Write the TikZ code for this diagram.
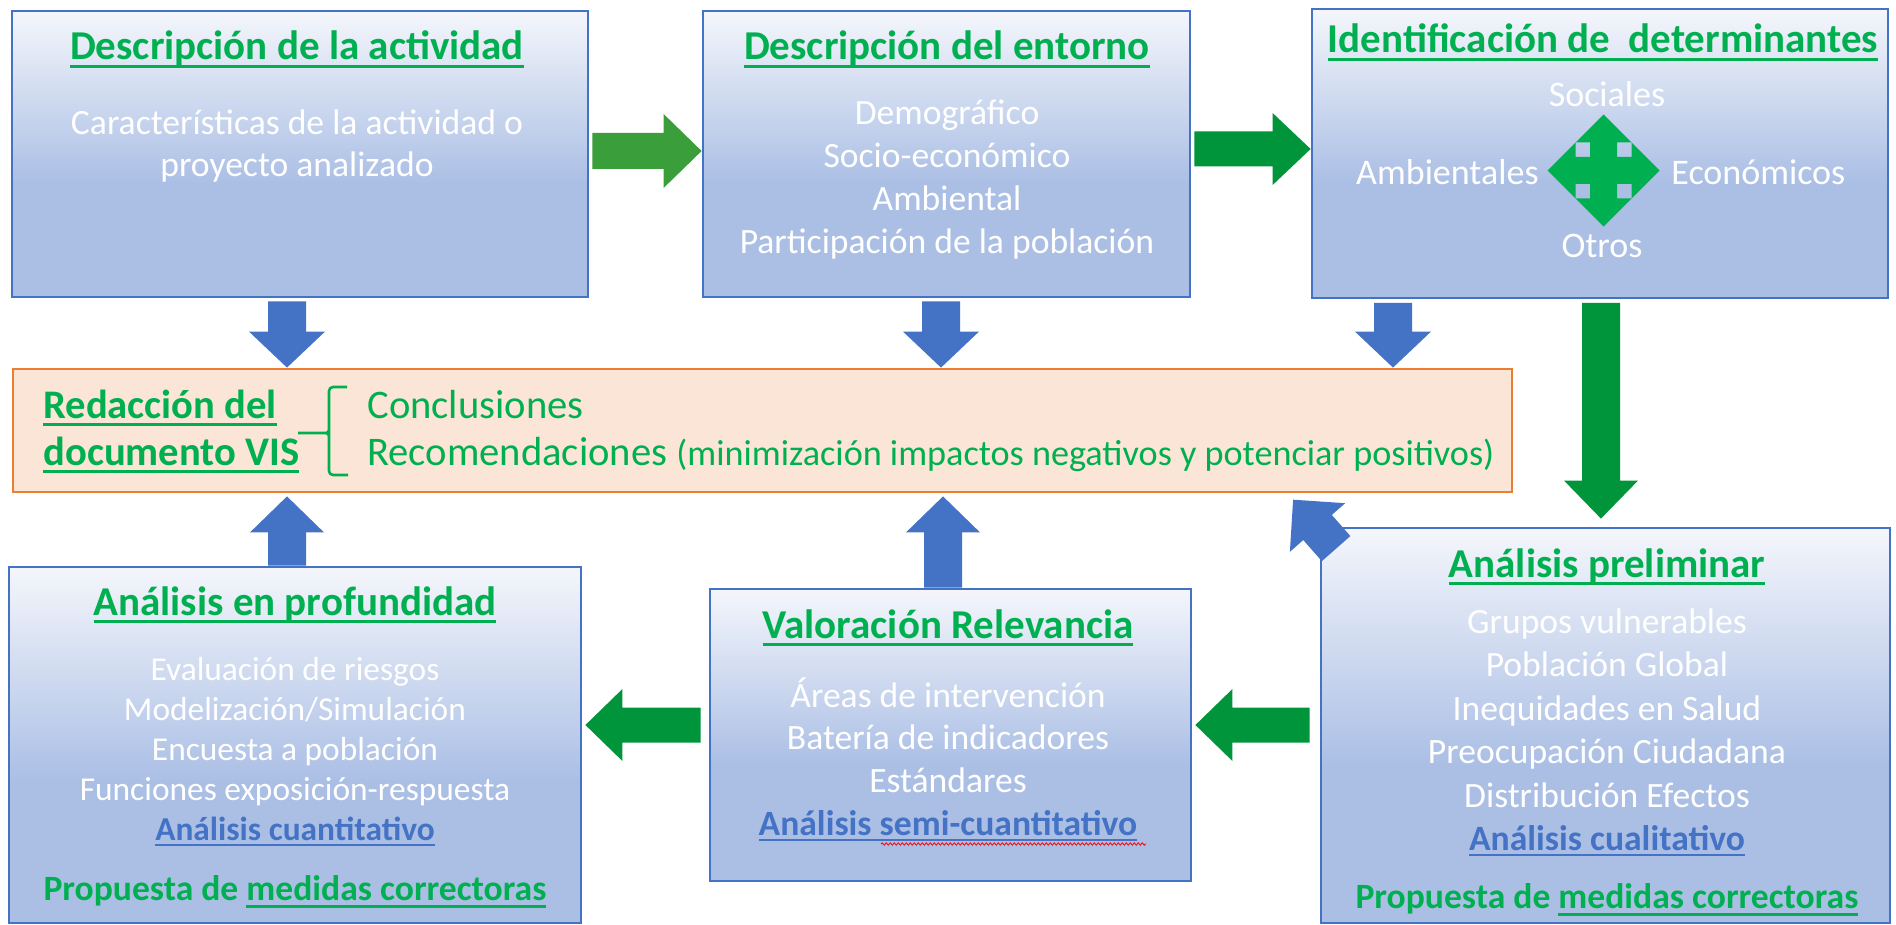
\documentclass[tikz,border=0pt]{standalone}
\usepackage{fontspec}
\setmainfont{Carlito}
\usetikzlibrary{calc,decorations.pathmorphing}
\pgfdeclarelayer{behind}
\pgfsetlayers{behind,main}

\definecolor{bordblue}{HTML}{4472C4}
\definecolor{gradtop}{HTML}{F4F6FB}
\definecolor{gradbot}{HTML}{ABBFE5}
\definecolor{titlegreen}{HTML}{00B050}
\definecolor{arrgreen}{HTML}{00953A}
\definecolor{arrgreenlight}{HTML}{3A9E3A}
\definecolor{orfill}{HTML}{FBE5D6}
\definecolor{orborder}{HTML}{ED7D31}
\definecolor{txtblue}{HTML}{4472C4}

\pgfdeclareverticalshading{boxgrad}{100bp}{color(0bp)=(gradbot); color(25bp)=(gradbot); color(45bp)=(gradbot); color(75bp)=(gradtop); color(100bp)=(gradtop)}

\newsavebox\ulbox
\newcommand\undl[2][3.9pt]{\sbox\ulbox{#2}\rlap{\rule[-#1]{\wd\ulbox}{1.2pt}}\usebox\ulbox}

% style, from, to, half shaft, half head, head length
\newcommand\blockarr[6]{%
  \coordinate (bahead) at ($(#3)!#6!(#2)$);
  \fill[#1] ($(#2)!#4!90:(#3)$) -- ($(bahead)!#4!90:(#3)$) -- ($(bahead)!#5!90:(#3)$) -- (#3)
    -- ($(bahead)!#5!-90:(#3)$) -- ($(bahead)!#4!-90:(#3)$) -- ($(#2)!#4!-90:(#3)$) -- cycle;}

% style, name, x1, y1, x2, y2
\newcommand\mkbox[6]{\node[#1, minimum width={(#5-#3)*0.5pt}, minimum height={(#6-#4)*0.5pt}] (#2) at ({(#3+#5)/2},{(#4+#6)/2}) {};}

\tikzset{
  gbox/.style={rectangle, inner sep=0pt, draw=bordblue, line width=1.4pt, shade, shading=boxgrad},
  obox/.style={rectangle, inner sep=0pt, draw=orborder, fill=orfill, line width=1.4pt},
  ttl/.style={anchor=base, inner sep=0pt, font=\bfseries\fontsize{20.5}{24}\selectfont, text=titlegreen},
  bod/.style={anchor=base, inner sep=0pt, font=\fontsize{17.8}{21}\selectfont, text=white},
  bods/.style={anchor=base, inner sep=0pt, font=\fontsize{16.7}{20}\selectfont, text=white},
  blu/.style={anchor=base, inner sep=0pt, font=\bfseries\fontsize{17.8}{21}\selectfont, text=txtblue},
  blus/.style={anchor=base, inner sep=0pt, font=\bfseries\fontsize{16.7}{20}\selectfont, text=txtblue},
  prop/.style={anchor=base, inner sep=0pt, font=\bfseries\fontsize{17.8}{21}\selectfont, text=titlegreen},
  det/.style={anchor=base, inner sep=0pt, font=\fontsize{18}{21}\selectfont, text=white},
  doct/.style={anchor=base west, inner sep=0pt, font=\fontsize{20.3}{24}\selectfont, text=titlegreen},
  bluearr/.style={fill=bordblue},
  grnarr/.style={fill=arrgreen},
  grnarrl/.style={fill=arrgreenlight},
  quad/.style={fill=titlegreen},
  bracel/.style={draw=titlegreen, line width=1.3pt, line join=round},
}

\begin{document}
\begin{tikzpicture}[x=0.5pt, y=-0.5pt]
\useasboundingbox (0,0) rectangle (1896,925);
\begin{pgfonlayer}{behind}
  \fill[white] (0,0) rectangle (1896,925);
\end{pgfonlayer}

% boxes
\mkbox{gbox}{b1}{12}{11}{588}{297}
\mkbox{gbox}{b2}{703}{11}{1190}{297}
\mkbox{gbox}{b3}{1312}{9}{1888}{298}
\mkbox{obox}{doc}{13}{369}{1512}{492}
\mkbox{gbox}{bl}{9}{567}{581}{923}
\mkbox{gbox}{bm}{710}{589}{1191}{881}
\mkbox{gbox}{br}{1321}{528}{1890}{923}

% connectors
\coordinate (a12s) at ($(b1.east)+(3,-3)$);
\coordinate (a12e) at (a12s -| b2.west);
\blockarr{grnarrl}{a12s}{a12e}{9pt}{18.5pt}{19pt}
\coordinate (a23s) at ($(b2.east)+(3,-5)$);
\coordinate (a23e) at (a23s -| b3.west);
\blockarr{grnarr}{a23s}{a23e}{8.75pt}{18pt}{19pt}

\coordinate (d1s) at ($(b1.south)+(-13,3)$);
\coordinate (d1e) at (d1s |- doc.north);
\blockarr{bluearr}{d1s}{d1e}{9.5pt}{19pt}{18pt}
\coordinate (d2s) at ($(b2.south)+(-5.5,3)$);
\coordinate (d2e) at (d2s |- doc.north);
\blockarr{bluearr}{d2s}{d2e}{9.5pt}{19pt}{18pt}
\coordinate (d3s) at ($(b3.south)+(-207,3.5)$);
\coordinate (d3e) at (d3s |- doc.north);
\blockarr{bluearr}{d3s}{d3e}{9.5pt}{19pt}{18pt}

\coordinate (dgs) at ($(b3.south)+(1,3.5)$);
\coordinate (dge) at ($(dgs |- br.north)+(0,-8)$);
\blockarr{grnarr}{dgs}{dge}{9.5pt}{18.5pt}{19pt}

\coordinate (u1s) at ($(bl.north)+(-8,0)$);
\coordinate (u1e) at ($(u1s |- doc.south)+(0,3)$);
\blockarr{bluearr}{u1s}{u1e}{9.5pt}{18.5pt}{18pt}
\coordinate (u2s) at ($(bm.north)+(-7.5,0)$);
\coordinate (u2e) at ($(u2s |- doc.south)+(0,3)$);
\blockarr{bluearr}{u2s}{u2e}{9.5pt}{18.5pt}{18pt}

\coordinate (uds) at ($(br.north west)+(16.5,22)$);
\coordinate (ude) at ($(doc.south east)+(-220.3,6.3)$);
\blockarr{bluearr}{uds}{ude}{9.5pt}{18.4pt}{18.5pt}

\coordinate (l1s) at ($(bm.west)+(-8,-10)$);
\coordinate (l1e) at ($(l1s -| bl.east)+(3,0)$);
\blockarr{grnarr}{l1s}{l1e}{8.75pt}{18pt}{18.5pt}
\coordinate (l2s) at ($(br.west)+(-10,-0.5)$);
\coordinate (l2e) at ($(l2s -| bm.east)+(3,0)$);
\blockarr{grnarr}{l2s}{l2e}{8.75pt}{18pt}{18.5pt}

% box 1
\node[ttl] (t1) at (297,60) {\undl{Descripción de la actividad}};
\node[bod] (b1l0) at (297,135) {Características de la actividad o};
\node[bod] (b1l1) at (297,177) {proyecto analizado};

% box 2
\node[ttl] (t2) at (947,60) {\undl{Descripción del entorno}};
\foreach \t [count=\i from 0] in {Demográfico,Socio-económico,Ambiental,Participación de la población}
  \node[bod] (b2l\i) at (947,{125+43*\i}) {\t};

% box 3
\node[ttl] (t3) at (1603,53) {\undl{Identificación de\ \ determinantes}};
\node[det] (soc) at (1607,107) {Sociales};
\node[det, anchor=base east] (amb) at (1539,185) {Ambientales};
\node[det, anchor=base west] (eco) at (1671,185) {Económicos};
\node[det] (otr) at (1602,258) {Otros};
\begin{scope}[shift={(1603.5,170.5)}]
  \fill[quad] (0,-56) -- (28,-28) -- (13.5,-28) -- (13.5,-13.5) -- (28,-13.5) -- (28,-28)
    -- (56,0) -- (28,28) -- (28,13.5) -- (13.5,13.5) -- (13.5,28) -- (28,28)
    -- (0,56) -- (-28,28) -- (-13.5,28) -- (-13.5,13.5) -- (-28,13.5) -- (-28,28)
    -- (-56,0) -- (-28,-28) -- (-28,-13.5) -- (-13.5,-13.5) -- (-13.5,-28) -- (-28,-28) -- cycle;
\end{scope}

% document box
\node[doct, font=\bfseries\fontsize{20.3}{24}\selectfont] (red1) at (43,418) {\undl{Redacción del}};
\node[doct, font=\bfseries\fontsize{20.3}{24}\selectfont] (red2) at (43,465) {\undl{documento VIS}};
\draw[bracel] (347,387) -- (333,387) to[out=180,in=90] (329,391) -- (329,471) to[out=-90,in=180] (333,475) -- (348,475);
\draw[bracel] (298,433) -- (326,433) to[out=0,in=-90] (329,430);
\draw[bracel] (326,433) to[out=0,in=90] (329,436);
\node[doct] (con) at (367,418) {Conclusiones};
\node[doct] (rec) at (367,465) {Recomendaciones {\fontsize{18.1}{22}\selectfont(minimización impactos negativos y potenciar positivos)}};

% bottom left
\node[ttl] (t4) at (295,615) {\undl{Análisis en profundidad}};
\foreach \t [count=\i from 0] in {Evaluación de riesgos,Modelización/Simulación,Encuesta a población,Funciones exposición-respuesta}
  \node[bods] (bll\i) at (295,{680+40*\i}) {\t};
\node[blus] (blq) at (295,840) {\undl[3.2pt]{Análisis cuantitativo}};
\node[prop] (blp) at (295,900) {Propuesta de \undl{medidas correctoras}};

% bottom middle
\node[ttl] (t5) at (948,638) {\undl{Valoración Relevancia}};
\foreach \t [count=\i from 0] in {Áreas de intervención,Batería de indicadores,Estándares}
  \node[bod] (bml\i) at (948,{707+42.5*\i}) {\t};
\node[blu] (bmq) at (948,835) {\undl[3.2pt]{Análisis semi-cuantitativo}};
\draw[red, line width=0.4pt, decorate, decoration={snake, amplitude=0.6pt, segment length=2pt}] (881,844) -- (1146,844);

% bottom right
\node[ttl] (t6) at (1607,577) {\undl{Análisis preliminar}};
\foreach \t [count=\i from 0] in {Grupos vulnerables,Población Global,Inequidades en Salud,Preocupación Ciudadana,Distribución Efectos}
  \node[bod] (brl\i) at (1607,{633+43.5*\i}) {\t};
\node[blu] (brq) at (1607,850) {\undl[3.2pt]{Análisis cualitativo}};
\node[prop] (brp) at (1607,908) {Propuesta de \undl{medidas correctoras}};
\end{tikzpicture}
\end{document}
